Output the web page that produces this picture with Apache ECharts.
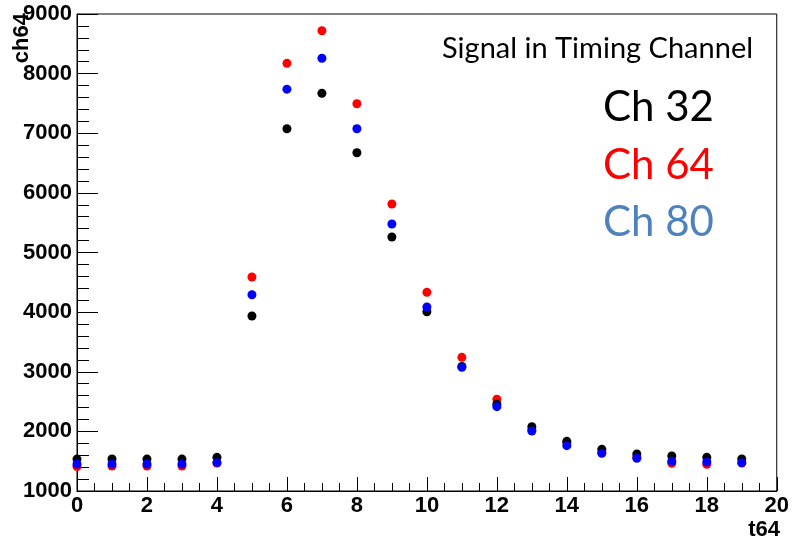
<!DOCTYPE html>
<html>
<head>
<meta charset="utf-8">
<script src="https://cdn.jsdelivr.net/npm/echarts@6/dist/echarts.min.js"></script>
<style>html,body{margin:0;padding:0;background:#fff;}#c{width:792px;height:541px;}</style>
</head>
<body>
<div id="c"></div>
<script>
const tValues = [0,1,2,3,4,5,6,7,8,9,10,11,12,13,14,15,16,17,18,19];
const ch32 = [1535,1537,1535,1535,1565,3935,7076,7670,6673,5260,4007,3090,2454,2078,1833,1699,1620,1587,1565,1537];
const ch64 = [1410,1420,1420,1420,1470,4589,8173,8720,7495,5813,4332,3242,2538,2023,1805,1650,1570,1465,1448,1470];
const ch80 = [1453,1453,1453,1453,1475,4292,7739,8257,7076,5478,4086,3074,2414,2006,1760,1632,1548,1498,1486,1475];
const xTicks = [0,2,4,6,8,10,12,14,16,18,20];
const yTicks = [1000,2000,3000,4000,5000,6000,7000,8000,9000];

const pairs = arr => tValues.map((t,i)=>[t,arr[i]]);
const chart = echarts.init(document.getElementById('c'), null, {renderer:'canvas'});
const FF = '"Liberation Sans", Arial, sans-serif';
const labelFont = {fontFamily:FF, fontWeight:'bold', fontSize:22, color:'#000'};
const mk = (name, data, color) => ({
  name, type:'scatter', data: pairs(data), symbol:'circle', symbolSize:9,
  itemStyle:{color:color, opacity:1}, animation:false
});
chart.setOption({
  animation:false,
  backgroundColor:'#fff',
  textStyle:{fontFamily:FF},
  grid:{left:77, right:12, top:14, bottom:50, show:true, borderColor:'#000', borderWidth:1, backgroundColor:'transparent'},
  xAxis:{
    type:'value', min:xTicks[0], max:xTicks[xTicks.length-1], interval:2,
    axisLine:{show:true, onZero:false, lineStyle:{color:'#000', width:1}},
    axisTick:{show:true, inside:true, length:14, lineStyle:{color:'#000'}},
    minorTick:{show:true, splitNumber:4, length:8, lineStyle:{color:'#000'}},
    splitLine:{show:false},
    axisLabel:Object.assign({margin:4, formatter: v => String(v)}, labelFont)
  },
  yAxis:{
    type:'value', min:yTicks[0], max:yTicks[yTicks.length-1], interval:1000,
    axisLine:{show:true, onZero:false, lineStyle:{color:'#000', width:1}},
    axisTick:{show:true, inside:true, length:21, lineStyle:{color:'#000'}},
    minorTick:{show:true, splitNumber:5, length:12, lineStyle:{color:'#000'}},
    splitLine:{show:false},
    axisLabel:Object.assign({margin:5, formatter: v => String(v), padding:[3,0,0,0]}, labelFont)
  },
  series:[ mk('Ch 64', ch64, '#ff0000'), mk('Ch 32', ch32, '#000000'), mk('Ch 80', ch80, '#0000ff') ],
  graphic:[
    {type:'text', x:22, y:13, rotation:Math.PI/2, style:{text:'ch64', align:'right', verticalAlign:'middle', font:'bold 22px "Liberation Sans"', fill:'#000'}},
    {type:'text', x:780, y:530, style:{text:'t64', align:'right', verticalAlign:'middle', font:'bold 22px "Liberation Sans"', fill:'#000'}},
    {type:'text', x:442, y:49, style:{text:'Signal in Timing Channel', align:'left', verticalAlign:'middle', font:'29px Lato', fill:'#000'}},
    {type:'text', x:603, y:107, style:{text:'Ch 32', align:'left', verticalAlign:'middle', font:'42px Lato', fill:'#000'}},
    {type:'text', x:603, y:165, style:{text:'Ch 64', align:'left', verticalAlign:'middle', font:'42px Lato', fill:'#ff0000'}},
    {type:'text', x:603, y:222, style:{text:'Ch 80', align:'left', verticalAlign:'middle', font:'42px Lato', fill:'#4f81bd'}}
  ]
});
</script>
</body>
</html>
